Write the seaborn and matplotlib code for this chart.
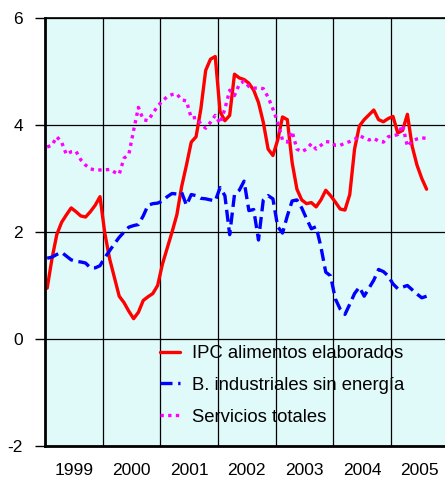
import pandas as pd
import numpy as np
import matplotlib
matplotlib.use("Agg")
import matplotlib.pyplot as plt
import seaborn as sns

## monthly series, Jan 1999 - Aug 2005 ##
years = [1999, 2000, 2001, 2002, 2003, 2004, 2005]
n_months = 80

ipc_alimentos = [
    0.95, 1.50, 1.95, 2.18, 2.32, 2.45, 2.38, 2.30, 2.28, 2.38, 2.50, 2.66,
    1.98, 1.50, 1.15, 0.80, 0.68, 0.52, 0.38, 0.50, 0.72, 0.79, 0.85, 1.00,
    1.40, 1.70, 2.00, 2.32, 2.85, 3.25, 3.68, 3.78, 4.30, 5.02, 5.23, 5.28,
    4.25, 4.08, 4.18, 4.95, 4.88, 4.85, 4.78, 4.65, 4.42, 4.05, 3.55, 3.43,
    3.72, 4.15, 4.10, 3.30, 2.80, 2.60, 2.53, 2.55, 2.47, 2.60, 2.78, 2.68,
    2.56, 2.43, 2.41, 2.70, 3.55, 3.98, 4.10, 4.19, 4.28, 4.10, 4.06, 4.12,
    4.16, 3.85, 3.90, 4.20, 3.60, 3.25, 3.00, 2.80,
]
b_industriales = [
    1.51, 1.53, 1.58, 1.62, 1.55, 1.48, 1.45, 1.44, 1.42, 1.33, 1.33, 1.37,
    1.52, 1.65, 1.78, 1.90, 2.00, 2.09, 2.12, 2.14, 2.30, 2.50, 2.53, 2.54,
    2.58, 2.66, 2.72, 2.71, 2.74, 2.50, 2.70, 2.68, 2.63, 2.62, 2.60, 2.58,
    2.83, 2.68, 1.95, 2.70, 2.78, 2.95, 2.40, 2.42, 1.85, 2.60, 2.68, 2.62,
    2.10, 1.98, 2.30, 2.58, 2.60, 2.45, 2.25, 2.06, 2.10, 1.72, 1.25, 1.18,
    0.75, 0.56, 0.46, 0.65, 0.85, 0.97, 0.80, 0.95, 1.10, 1.30, 1.26, 1.18,
    1.03, 0.94, 0.97, 1.00, 0.92, 0.84, 0.77, 0.80,
]
servicios = [
    3.59, 3.62, 3.78, 3.68, 3.45, 3.50, 3.51, 3.35, 3.25, 3.18, 3.16, 3.16,
    3.16, 3.17, 3.12, 3.08, 3.38, 3.45, 3.90, 4.33, 4.10, 4.08, 4.22, 4.35,
    4.45, 4.53, 4.57, 4.58, 4.47, 4.45, 4.13, 4.14, 4.02, 3.94, 4.05, 4.18,
    4.03, 4.30, 4.65, 4.55, 4.76, 4.82, 4.72, 4.69, 4.69, 4.68, 4.52, 4.30,
    4.05, 3.72, 3.68, 3.88, 3.55, 3.50, 3.55, 3.65, 3.55, 3.62, 3.69, 3.68,
    3.62, 3.62, 3.66, 3.69, 3.73, 3.80, 3.76, 3.72, 3.75, 3.70, 3.68, 3.78,
    3.80, 3.82, 4.00, 3.60, 3.70, 3.74, 3.76, 3.75,
]

labels = ["IPC alimentos elaborados", "B. industriales sin energía", "Servicios totales"]

t = 1999 + (np.arange(n_months) + 0.45) / 12
df = pd.DataFrame({"t": t, labels[0]: ipc_alimentos, labels[1]: b_industriales, labels[2]: servicios})

sns.set_style("white")
plt.rcParams["font.family"] = ["Liberation Sans", "DejaVu Sans"]
plt.rcParams["axes.unicode_minus"] = False
plt.rcParams["text.color"] = "black"
plt.rcParams["xtick.color"] = "black"
plt.rcParams["ytick.color"] = "black"

fig = plt.figure(figsize=(4.45, 4.79), dpi=100)
ax = fig.add_axes([45 / 445, 1 - 446 / 479, 1 - 45 / 445, 428 / 479])
ax.set_facecolor("#E0FAFA")

sns.lineplot(data=df, x="t", y=labels[0], ax=ax, color="#FF0000", lw=2.4, label=labels[0])
sns.lineplot(data=df, x="t", y=labels[1], ax=ax, color="#0000FF", lw=2.4, label=labels[1],
             linestyle=(0, (3.6, 1.7)))
sns.lineplot(data=df, x="t", y=labels[2], ax=ax, color="#FF00FF", lw=2.4, label=labels[2],
             linestyle=(0, (1, 1.3)))

## axes ##
ax.set_xlim(1999, 2005 + 0.94)
ax.set_ylim(-2, 6)
ax.set_yticks([-2, 0, 2, 4, 6])
ax.set_xticks(years[1:])
ax.set_xticklabels([])
ax.set_xticks([y + 0.5 for y in years], minor=True)
ax.set_xticklabels([str(y) for y in years], minor=True)
ax.tick_params(axis="x", which="both", length=0, pad=12, labelsize=12.5, labelcolor="black")
ax.tick_params(axis="y", length=7, width=1, direction="out", left=True, pad=9,
               labelsize=12.5, labelcolor="black", color="black")
ax.grid(True, which="major", color="black", lw=0.9)
ax.set_xlabel("")
ax.set_ylabel("")

for s in ["left", "bottom"]:
    ax.spines[s].set_color("black")
    ax.spines[s].set_linewidth(2)
ax.spines["top"].set_color("black")
ax.spines["top"].set_linewidth(1.2)
ax.spines["right"].set_visible(False)

leg = ax.legend(loc="upper left", bbox_to_anchor=(0.2875, 0.236), frameon=False,
                fontsize=13.3, handlelength=1.1, handletextpad=0.65, labelspacing=0.8,
                borderpad=0, borderaxespad=0)
for txt in leg.get_texts():
    txt.set_color("black")

fig.savefig("out.png", dpi=100)
